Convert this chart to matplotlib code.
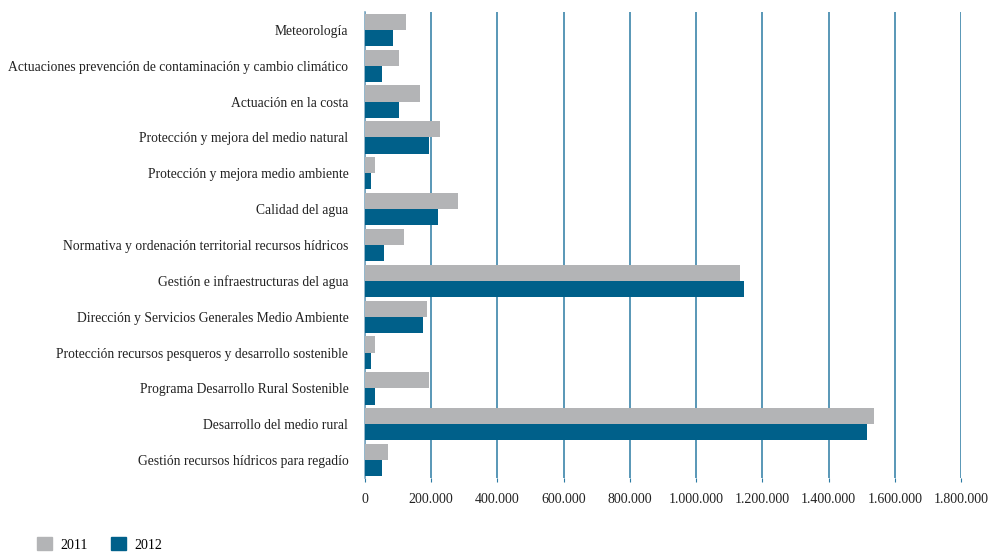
import matplotlib
matplotlib.use("Agg")
import matplotlib.pyplot as plt
import numpy as np
from matplotlib.ticker import FuncFormatter
from matplotlib.patches import Patch

categories = [
    "Meteorología",
    "Actuaciones prevención de contaminación y cambio climático",
    "Actuación en la costa",
    "Protección y mejora del medio natural",
    "Protección y mejora medio ambiente",
    "Calidad del agua",
    "Normativa y ordenación territorial recursos hídricos",
    "Gestión e infraestructuras del agua",
    "Dirección y Servicios Generales Medio Ambiente",
    "Protección recursos pesqueros y desarrollo sostenible",
    "Programa Desarrollo Rural Sostenible",
    "Desarrollo del medio rural",
    "Gestión recursos hídricos para regadío",
]
values_2011 = [124000, 103000, 166000, 226000, 30000, 281000, 118000,
               1134000, 187000, 30000, 193000, 1538000, 69000]
values_2012 = [84000, 51000, 103000, 193000, 18000, 220000, 57000,
               1146000, 175000, 18000, 30000, 1517000, 51000]
series_names = ["2011", "2012"]
xticks = [0, 200000, 400000, 600000, 800000, 1000000, 1200000, 1400000, 1600000, 1800000]

c2011 = "#b3b4b6"
c2012 = "#00608a"
grid_c = "#2b7aa3"
plt.rcParams['font.family'] = ['Liberation Serif', 'DejaVu Serif']

fig = plt.figure(figsize=(9.96, 5.52), dpi=100)
ax = fig.add_axes([365/996, 1-478/552, (961-365)/996, (478-12)/552])

n = len(categories)
y = np.arange(n)
h = 0.45
ax.barh(y - h/2, values_2011, height=h, color=c2011, zorder=3)
ax.barh(y + h/2, values_2012, height=h, color=c2012, zorder=3)

ax.set_ylim(n - 0.5, -0.5)
ax.set_xlim(0, 1800000)
ax.set_yticks(y)
ax.set_yticklabels(categories, fontsize=9.8, color="#222222")
ax.tick_params(axis='y', length=0, pad=12)
ax.set_xticks(xticks)
ax.xaxis.set_major_formatter(FuncFormatter(lambda v, p: f"{int(v):,}".replace(",", ".")))
ax.tick_params(axis='x', length=3, color=grid_c, labelsize=10, labelcolor="#222222", pad=8)
for s in ["top", "right", "bottom"]:
    ax.spines[s].set_visible(False)
ax.spines["left"].set_color("#7fa9c2")
ax.spines["left"].set_linewidth(1.2)
ax.grid(axis='x', color=grid_c, linewidth=1.1, zorder=0)
ax.set_axisbelow(True)

handles = [Patch(color=c2011), Patch(color=c2012)]
fig.legend(handles, series_names, loc="lower left", bbox_to_anchor=(0.025, -0.022),
           ncol=2, frameon=False, fontsize=10, handlelength=1.05, handleheight=1.05,
           columnspacing=1.7, handletextpad=0.6)

fig.savefig("out.png", dpi=100)
